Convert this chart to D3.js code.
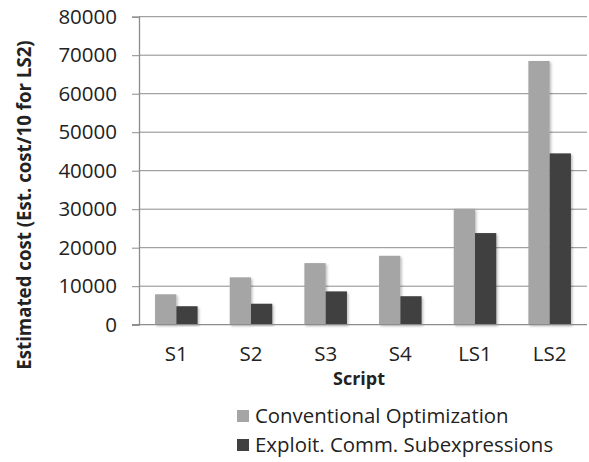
<!DOCTYPE html>
<html>
<head>
<meta charset="utf-8">
<script src="https://cdn.jsdelivr.net/npm/d3@7"></script>
<style>
  body { margin: 0; background: #fff; }
  text { font-family: "Open Sans", sans-serif; fill: #222; }
</style>
</head>
<body>
<div id="chart"></div>
<script>
// data
const scripts = ["S1", "S2", "S3", "S4", "LS1", "LS2"];
const seriesNames = ["Conventional Optimization", "Exploit. Comm. Subexpressions"];
const conventional = [7900, 12300, 16000, 17900, 30100, 68500];
const exploit = [4800, 5450, 8650, 7400, 23800, 44500];
const yTicks = [0, 10000, 20000, 30000, 40000, 50000, 60000, 70000, 80000];
const colors = ["#a5a5a5", "#404040"];

const width = 589;
const height = 462;
const margin = {top: 16.7, right: 2, bottom: 137.3, left: 139};

const svg = d3.select("#chart")
  .append("svg")
  .attr("width", width)
  .attr("height", height);

// soft shadow under the bars
const defs = svg.append("defs");
defs.append("filter")
  .attr("id", "shadow")
  .attr("x", "-20%").attr("y", "-5%").attr("width", "150%").attr("height", "115%")
  .append("feDropShadow")
  .attr("dx", 1.5).attr("dy", 1.5)
  .attr("stdDeviation", 1.2)
  .attr("flood-color", "#000")
  .attr("flood-opacity", 0.25);

const x = d3.scaleBand()
  .domain(scripts)
  .range([margin.left, width - margin.right])
  .paddingInner(0.43)
  .paddingOuter(0.215);

const xSub = d3.scaleBand()
  .domain(seriesNames)
  .range([0, x.bandwidth()]);

const y = d3.scaleLinear()
  .domain([0, 80000])
  .range([height - margin.bottom, margin.top]);

// gridlines
svg.append("g")
  .selectAll("line")
  .data(yTicks.slice(1))
  .join("line")
  .attr("x1", margin.left)
  .attr("x2", width - margin.right)
  .attr("y1", d => y(d))
  .attr("y2", d => y(d))
  .attr("stroke", "#8c8c8c")
  .attr("stroke-width", 1);

// y axis
const yAxis = svg.append("g")
  .attr("transform", `translate(${margin.left},0)`)
  .call(d3.axisLeft(y).tickValues(yTicks).tickSize(7).tickPadding(15).tickFormat(d3.format("d")));
yAxis.selectAll("line").attr("stroke", "#8c8c8c");
yAxis.select(".domain").attr("stroke", "#8c8c8c").attr("stroke-width", 1.3);
yAxis.selectAll("text")
  .style("font-size", "20.5px")
  .attr("fill", "#222");

// bars
const series = [conventional, exploit];
const groups = svg.append("g")
  .selectAll("g")
  .data(series)
  .join("g")
  .attr("fill", (d, i) => colors[i]);

groups.selectAll("rect")
  .data((d, i) => d.map((v, j) => ({key: scripts[j], s: seriesNames[i], v: v})))
  .join("rect")
  .attr("x", d => x(d.key) + xSub(d.s))
  .attr("width", xSub.bandwidth())
  .attr("y", d => y(d.v))
  .attr("height", d => y(0) - y(d.v))
  .attr("filter", "url(#shadow)");

// x axis
const xAxis = svg.append("g")
  .attr("transform", `translate(0,${y(0)})`)
  .call(d3.axisBottom(x).tickSize(0).tickPadding(22));
xAxis.select(".domain")
  .attr("d", `M${margin.left - 7},0H${width - margin.right}`)
  .attr("stroke", "#8c8c8c")
  .attr("stroke-width", 1.3);
xAxis.selectAll("text")
  .style("font-size", "20.5px")
  .attr("fill", "#222");

// axis titles
svg.append("text")
  .attr("x", 359)
  .attr("y", 385)
  .attr("text-anchor", "middle")
  .style("font-size", "18px")
  .style("font-weight", "bold")
  .text("Script");

svg.append("text")
  .attr("transform", `translate(31,${205}) rotate(-90)`)
  .attr("text-anchor", "middle")
  .style("font-size", "18.7px")
  .style("font-weight", "bold")
  .text("Estimated cost (Est. cost/10 for LS2)");

// legend
const legend = svg.append("g")
  .selectAll("g")
  .data(seriesNames)
  .join("g")
  .attr("transform", (d, i) => `translate(237,${416 + i * 29})`);

legend.append("rect")
  .attr("x", 0)
  .attr("y", -6)
  .attr("width", 12)
  .attr("height", 12)
  .attr("fill", (d, i) => colors[i]);

legend.append("text")
  .attr("x", 18)
  .attr("y", 0)
  .attr("dy", "0.35em")
  .style("font-size", "20.4px")
  .text(d => d);
</script>
</body>
</html>
